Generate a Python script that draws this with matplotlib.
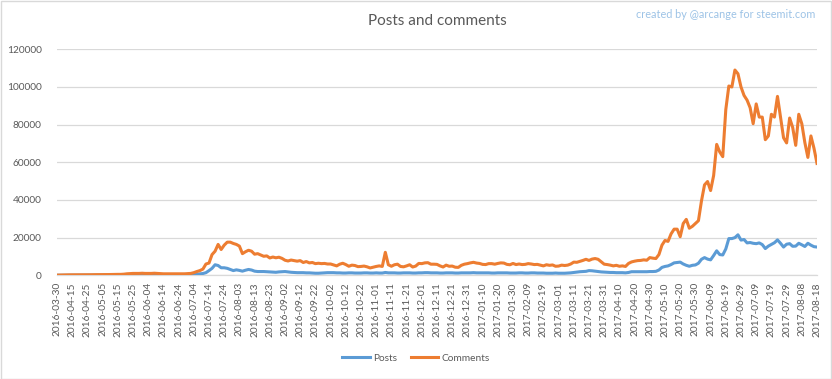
import numpy as np
import matplotlib
matplotlib.use("Agg")
import matplotlib.pyplot as plt
from matplotlib.patches import Rectangle

plt.rcParams['font.family'] = ['Lato', 'DejaVu Sans']

tick_labels = [
    "2016-03-30", "2016-04-15", "2016-04-25", "2016-05-05", "2016-05-15", "2016-05-25",
    "2016-06-04", "2016-06-14", "2016-06-24", "2016-07-04", "2016-07-14", "2016-07-24",
    "2016-08-03", "2016-08-13", "2016-08-23", "2016-09-02", "2016-09-12", "2016-09-22",
    "2016-10-02", "2016-10-12", "2016-10-22", "2016-11-01", "2016-11-11", "2016-11-21",
    "2016-12-01", "2016-12-11", "2016-12-21", "2016-12-31", "2017-01-10", "2017-01-20",
    "2017-01-30", "2017-02-09", "2017-02-19", "2017-03-01", "2017-03-11", "2017-03-21",
    "2017-03-31", "2017-04-10", "2017-04-20", "2017-04-30", "2017-05-10", "2017-05-20",
    "2017-05-30", "2017-06-09", "2017-06-19", "2017-06-29", "2017-07-09", "2017-07-19",
    "2017-07-29", "2017-08-08", "2017-08-18",
]
label_every = 10   # one label every 10 daily categories
sample_every = 2   # values below are read every 2nd day

comments = [
    100, 150, 200, 200, 250, 250, 300, 300, 300, 300,
    300, 300, 350, 350, 350, 400, 400, 400, 450, 450,
    500, 500, 600, 800, 900, 1000, 1000, 1000, 1100, 1000,
    1000, 1000, 1100, 1000, 900, 800, 800, 800, 800, 800,
    800, 800, 800, 900, 1000, 1400, 2000, 2500, 3300, 6000,
    6500, 11000, 12800, 16400, 13700, 16000, 17600, 17600, 16900, 16400,
    15500, 11500, 12500, 13300, 12800, 11200, 11500, 10800, 10100, 10300,
    9200, 9700, 9300, 9600, 9000, 8000, 7600, 8100, 7800, 7500,
    7800, 6800, 7300, 6600, 6800, 6200, 6400, 6200, 6300, 6000,
    6000, 5500, 5000, 5900, 6400, 5700, 4800, 5400, 5200, 4600,
    4700, 4900, 4500, 3900, 4300, 4700, 5000, 4700, 12200, 5600,
    4800, 5600, 5900, 4700, 4500, 5000, 5600, 4400, 4900, 6300,
    6200, 6600, 6700, 5900, 5900, 5800, 5000, 4400, 5400, 4800,
    4900, 4300, 4200, 5300, 5900, 6200, 6600, 6900, 6500, 6300,
    5800, 5700, 6200, 6200, 5900, 6300, 6600, 6500, 5800, 5600,
    6300, 5700, 6000, 5700, 5800, 6200, 6000, 5700, 5800, 5400,
    5000, 5600, 5300, 5500, 4800, 4900, 5400, 5200, 5400, 6000,
    7000, 6900, 7400, 7900, 8500, 7900, 8600, 8900, 8500, 7200,
    5900, 5700, 5400, 5000, 5300, 4800, 5000, 4700, 6300, 7100,
    7500, 7800, 7900, 8200, 8000, 9400, 9100, 8900, 11000, 16000,
    18500, 18000, 22000, 24500, 24500, 20500, 27500, 29700, 25000, 26000,
    27500, 29000, 39500, 48000, 49800, 45000, 53000, 69500, 65500, 63000,
    88000, 100500, 100000, 109000, 107000, 100000, 95500, 93000, 89000, 80500,
    91000, 84000, 84000, 72000, 74000, 85500, 84000, 95000, 84000, 73000,
    70300, 83500, 78500, 69000, 85500, 80500, 70500, 62600, 74000, 67500,
    59400,
]

posts = [
    20, 30, 40, 50, 60, 70, 80, 80, 90, 100,
    100, 110, 110, 120, 120, 130, 130, 140, 140, 150,
    150, 160, 170, 180, 190, 200, 200, 210, 220, 230,
    240, 250, 260, 270, 280, 290, 300, 310, 320, 340,
    350, 370, 400, 430, 470, 520, 600, 750, 950, 1400,
    2500, 3700, 5600, 5200, 4000, 4000, 3700, 3100, 2500, 2900,
    2600, 2200, 2700, 3100, 2800, 2200, 2000, 2000, 2000, 1900,
    1800, 1700, 1600, 1800, 1900, 2000, 1800, 1600, 1500, 1400,
    1400, 1400, 1300, 1300, 1200, 1100, 1100, 1200, 1300, 1400,
    1400, 1400, 1300, 1300, 1200, 1200, 1300, 1300, 1200, 1200,
    1200, 1300, 1300, 1200, 1200, 1300, 1200, 1200, 1500, 1300,
    1300, 1300, 1200, 1200, 1300, 1300, 1300, 1200, 1200, 1300,
    1300, 1400, 1400, 1300, 1300, 1300, 1200, 1200, 1300, 1300,
    1300, 1200, 1200, 1300, 1300, 1300, 1300, 1400, 1300, 1300,
    1300, 1300, 1300, 1200, 1200, 1300, 1300, 1300, 1300, 1200,
    1200, 1200, 1300, 1300, 1200, 1200, 1300, 1300, 1200, 1200,
    1200, 1100, 1100, 1100, 1200, 1100, 1100, 1100, 1200, 1300,
    1500, 1700, 1900, 2000, 2100, 2500, 2400, 2200, 2000, 1800,
    1700, 1600, 1500, 1500, 1400, 1400, 1400, 1300, 1500, 1900,
    1900, 1900, 1900, 1900, 1900, 2000, 2000, 2100, 2800, 4200,
    4700, 5000, 5700, 6600, 6800, 7000, 6000, 5300, 4800, 5300,
    5500, 6400, 8500, 9400, 8600, 8200, 10500, 13000, 11000, 10800,
    14000, 19500, 19500, 20000, 21500, 18700, 19000, 17200, 17400, 17000,
    16800, 17200, 16300, 14200, 15500, 16400, 17300, 18800, 17000, 15000,
    16500, 16800, 15400, 15500, 17000, 16200, 15300, 17000, 16000, 15200,
    15000,
]

y_ticks = [0, 20000, 40000, 60000, 80000, 100000, 120000]

W, H = 832, 379
fig = plt.figure(figsize=(W / 100, H / 100), dpi=100)
ax = fig.add_axes([57 / W, 1 - 275.3 / H, (817 - 57) / W, (275.3 - 49.3) / H])

x = np.arange(len(comments)) * sample_every
blue = "#5B9BD5"
orange = "#ED7D31"
grey_txt = "#595959"
grid_c = "#D9D9D9"

ax.plot(x, posts, color=blue, lw=2.2, label="Posts", solid_joinstyle="round", zorder=3)
ax.plot(x, comments, color=orange, lw=2.2, label="Comments", solid_joinstyle="round", zorder=3)

n_cat = (len(tick_labels) - 1) * label_every
ax.set_xlim(0, n_cat)
ax.set_ylim(0, y_ticks[-1])
ax.set_xticks(np.arange(len(tick_labels)) * label_every)
ax.set_xticklabels(tick_labels, rotation=90, fontsize=7.3, color=grey_txt)
ax.set_yticks(y_ticks)
ax.set_yticklabels([str(v) for v in y_ticks], fontsize=7.3, color=grey_txt)
ax.tick_params(axis='x', length=0, pad=5)
ax.tick_params(axis='y', length=0, pad=11)
ax.grid(axis='y', color=grid_c, lw=0.9, zorder=0)
for s in ['top', 'right', 'left']:
    ax.spines[s].set_visible(False)
ax.spines['bottom'].set_color(grid_c)
ax.spines['bottom'].set_linewidth(0.9)

fig.text(437 / W, 1 - 21 / H, "Posts and comments", ha='center', va='center',
         fontsize=11, color=grey_txt)
fig.text(815 / W, 1 - 15 / H, "created by @arcange for steemit.com", ha='right',
         va='center', fontsize=7.8, color="#9DC3E6")

fig.legend(loc='center', bbox_to_anchor=(0.5, 1 - 358 / H), ncol=2, frameon=False,
           fontsize=7.3, handlelength=2.7, handletextpad=0.3, columnspacing=1.4,
           labelcolor=grey_txt)

fig.patches.append(Rectangle((0.5 / W, 0.5 / H), 1 - 1.5 / W, 1 - 1.5 / H,
                             transform=fig.transFigure, fill=False,
                             edgecolor=grid_c, lw=1))

fig.savefig("out.png", dpi=100)
